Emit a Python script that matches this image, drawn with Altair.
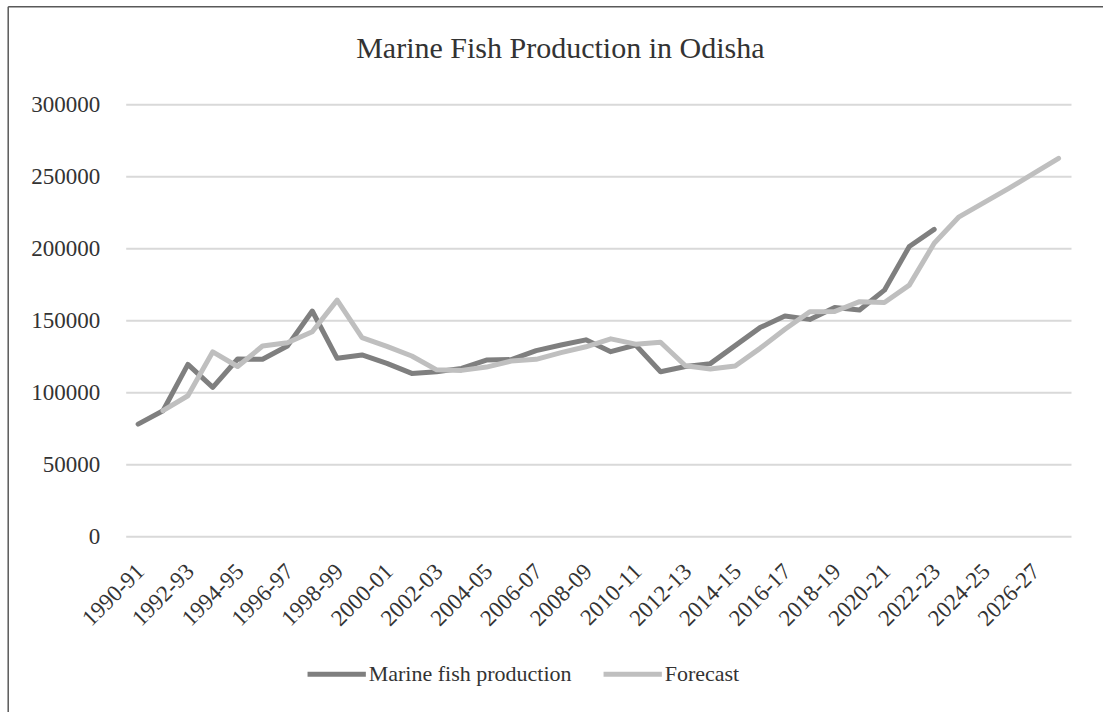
import altair as alt
import pandas as pd

# Financial years on the category axis
years = [
    "1990-91", "1991-92", "1992-93", "1993-94", "1994-95", "1995-96", "1996-97",
    "1997-98", "1998-99", "1999-00", "2000-01", "2001-02", "2002-03", "2003-04",
    "2004-05", "2005-06", "2006-07", "2007-08", "2008-09", "2009-10", "2010-11",
    "2011-12", "2012-13", "2013-14", "2014-15", "2015-16", "2016-17", "2017-18",
    "2018-19", "2019-20", "2020-21", "2021-22", "2022-23", "2023-24", "2024-25",
    "2025-26", "2026-27", "2027-28",
]
# Every other year is labelled
tick_labels = years[::2]

# Observed marine fish production (tonnes), 1990-91 to 2022-23
production = [
    78000, 87300, 119500, 103500, 123200, 123000, 132200, 156500, 123700, 126000,
    120200, 113200, 114400, 116700, 122500, 122800, 129000, 132900, 136500, 128300,
    132900, 114400, 118000, 120000, 132500, 145000, 153000, 150700, 159000, 157200,
    171000, 201300, 213200,
]
# Fitted / forecast values, 1991-92 to 2027-28
forecast = [
    87300, 97700, 128200, 118000, 132200, 134500, 142100, 164100, 138000, 132000,
    125300, 115700, 115300, 117600, 121800, 123000, 127600, 131700, 137200, 133500,
    134800, 118500, 116300, 118300, 130600, 143800, 156000, 156200, 163000, 162400,
    174500, 203500, 221900, 231700, 241600, 252000, 262500,
]

series_names = ["Marine fish production", "Forecast"]
series_colors = ["#7f7f7f", "#bfbfbf"]

rows = [{"year": y, "value": v, "series": series_names[0]} for y, v in zip(years, production)]
rows += [{"year": y, "value": v, "series": series_names[1]} for y, v in zip(years[1:], forecast)]
df = pd.DataFrame(rows)

FONT = "Liberation Serif"
TEXT = "#333333"

x_enc = alt.X(
    "year:O",
    sort=years,
    scale=alt.Scale(type="point", padding=0.5, domain=years),
    axis=alt.Axis(
        title=None,
        values=tick_labels,
        labelAngle=-45,
        labelAlign="right",
        labelBaseline="middle",
        labelPadding=31,
        labelOffset=2,
        labelFont=FONT,
        labelFontSize=23,
        labelColor=TEXT,
        ticks=False,
        tickSize=0,
        domain=False,
        grid=False,
        labelOverlap=False,
    ),
)
y_enc = alt.Y(
    "value:Q",
    scale=alt.Scale(domain=[0, 300000], nice=False),
    axis=alt.Axis(
        title=None,
        values=[0, 50000, 100000, 150000, 200000, 250000, 300000],
        format="d",
        labelFont=FONT,
        labelFontSize=23,
        labelColor=TEXT,
        labelPadding=26,
        ticks=False,
        tickSize=0,
        domain=False,
        grid=True,
        gridColor="#d9d9d9",
        gridWidth=2,
    ),
)
color_enc = alt.Color(
    "series:N",
    scale=alt.Scale(domain=series_names, range=series_colors),
    legend=alt.Legend(
        title=None,
        orient="none",
        direction="horizontal",
        legendX=179,
        legendY=538,
        symbolType="stroke",
        symbolSize=3400,
        symbolStrokeWidth=5,
        labelFont=FONT,
        labelFontSize=22,
        labelColor=TEXT,
        labelOffset=0,
        labelLimit=400,
        columnPadding=21,
        padding=0,
    ),
)

base = alt.Chart(df).encode(x=x_enc, y=y_enc, color=color_enc)
line_style = dict(strokeWidth=5, strokeCap="round", strokeJoin="round")

prod_line = base.transform_filter(alt.datum.series == series_names[0]).mark_line(**line_style)
fc_line = base.transform_filter(alt.datum.series == series_names[1]).mark_line(**line_style)

# Chart frame along the left and top edges
frame_data = alt.Data(values=[{}])
frame_left = alt.Chart(frame_data).mark_rule(color="#595959", strokeWidth=1.5).encode(
    x=alt.value(-117.5), y=alt.value(-97.5), y2=alt.value(700)
)
frame_top = alt.Chart(frame_data).mark_rule(color="#595959", strokeWidth=1.5).encode(
    x=alt.value(-117.5), x2=alt.value(1100), y=alt.value(-97.5)
)

chart = (
    alt.layer(prod_line, fc_line, frame_left, frame_top)
    .properties(
        width=945.3,
        height=432.2,
        background="white",
        title=alt.TitleParams(
            "Marine Fish Production in Odisha",
            font=FONT,
            fontSize=30,
            fontWeight="normal",
            color=TEXT,
            anchor="middle",
            baseline="alphabetic",
            offset=46,
            dx=-38,
            dy=128.25,
        ),
        autosize=alt.AutoSizeParams(type="none"),
        padding={"left": 125.7, "top": 104.3, "right": 32, "bottom": 175.5},
    )
    .configure_view(strokeWidth=0, stroke="transparent")
)

chart.save("out.html", embed_options={"renderer": "svg", "actions": False})
